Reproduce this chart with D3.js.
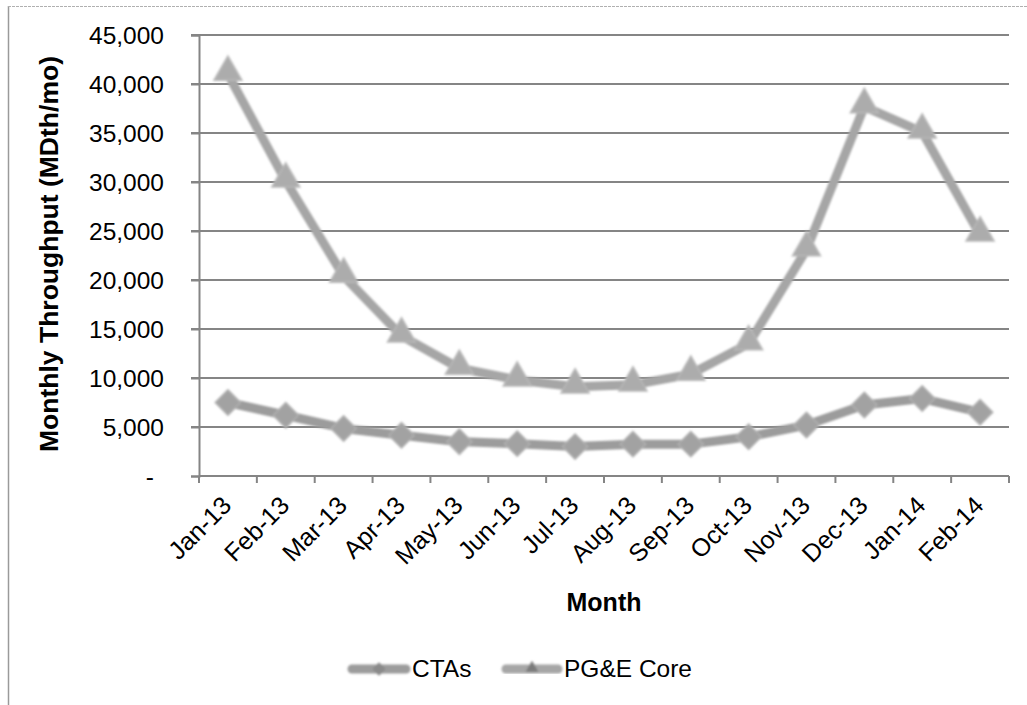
<!DOCTYPE html>
<html>
<head>
<meta charset="utf-8">
<script src="https://cdn.jsdelivr.net/npm/d3@7"></script>
<style>
  html, body { margin: 0; padding: 0; background: #fff; }
  svg { display: block; font-family: "Liberation Sans", Arial, sans-serif; }
</style>
</head>
<body>
<svg id="chart" width="1027" height="705"></svg>
<script>
const months = ["Jan-13","Feb-13","Mar-13","Apr-13","May-13","Jun-13","Jul-13","Aug-13","Sep-13","Oct-13","Nov-13","Dec-13","Jan-14","Feb-14"];
const ctas = [7500, 6200, 4850, 4150, 3500, 3300, 3000, 3250, 3250, 4000, 5200, 7250, 7900, 6500];
const pgeCore = [41000, 30100, 20400, 14300, 11000, 9800, 9100, 9300, 10400, 13500, 23100, 37700, 35100, 24600];
const yTicks = [0, 5000, 10000, 15000, 20000, 25000, 30000, 35000, 40000, 45000];
const yTickLabels = ["-", "5,000", "10,000", "15,000", "20,000", "25,000", "30,000", "35,000", "40,000", "45,000"];
const seriesNames = ["CTAs", "PG&E Core"];

const svg = d3.select("#chart");
const defs = svg.append("defs");
defs.append("filter").attr("id", "soft")
  .attr("x", "-20%").attr("y", "-20%").attr("width", "140%").attr("height", "140%")
  .append("feGaussianBlur").attr("stdDeviation", 0.9);

// outer frame
svg.append("line").attr("x1", 8.5).attr("x2", 8.5).attr("y1", 6).attr("y2", 705)
  .attr("stroke", "#9a9a9a").attr("stroke-width", 1.5);
svg.append("line").attr("x1", 8).attr("x2", 1027).attr("y1", 6.5).attr("y2", 6.5)
  .attr("stroke", "#b0b0b0").attr("stroke-width", 1).attr("stroke-dasharray", "3,1");

const x = d3.scaleBand().domain(months).range([199, 1009]);
const y = d3.scaleLinear().domain([0, 45000]).range([476, 35]);

// gridlines
svg.append("g").selectAll("line").data(yTicks.filter(d => d > 0)).join("line")
  .attr("x1", 191).attr("x2", 1009)
  .attr("y1", d => y(d)).attr("y2", d => y(d))
  .attr("stroke", "#858585").attr("stroke-width", 2);

// y axis
const yAxis = d3.axisLeft(y).tickValues(yTicks).tickSize(8)
  .tickFormat((d, i) => yTickLabels[i]);
const gy = svg.append("g").attr("transform", "translate(199,0)").call(yAxis);
gy.select(".domain").attr("stroke", "#858585").attr("stroke-width", 2);
gy.selectAll(".tick line").attr("stroke", "#858585").attr("stroke-width", 2);
gy.selectAll(".tick text")
  .attr("x", (d) => d === 0 ? -45 : -35)
  .attr("dy", "0.36em")
  .attr("font-size", 24.5).attr("fill", "#000")
  .attr("font-family", "'Liberation Sans', Arial, sans-serif");

// x axis (ticks at band boundaries)
const gx = svg.append("g");
gx.append("line").attr("x1", 199).attr("x2", 1009).attr("y1", 476).attr("y2", 476)
  .attr("stroke", "#858585").attr("stroke-width", 2);
const bounds = months.map(m => x(m)).concat([x.range()[1]]);
gx.selectAll("line.tk").data(bounds).join("line").attr("class", "tk")
  .attr("x1", d => d).attr("x2", d => d).attr("y1", 476).attr("y2", 483)
  .attr("stroke", "#858585").attr("stroke-width", 2);
gx.selectAll("text").data(months).join("text")
  .attr("transform", d => `translate(${x(d) + x.bandwidth() / 2 + 5},507) rotate(-45)`)
  .attr("text-anchor", "end")
  .attr("font-size", 25).attr("fill", "#000")
  .text(d => d);

// axis titles
svg.append("text").attr("transform", "translate(58,254) rotate(-90)")
  .attr("text-anchor", "middle").attr("font-size", 26.5).attr("font-weight", "bold")
  .attr("fill", "#000").text("Monthly Throughput (MDth/mo)");
svg.append("text").attr("x", 604).attr("y", 611)
  .attr("text-anchor", "middle").attr("font-size", 25).attr("font-weight", "bold")
  .attr("fill", "#000").text("Month");

const cx = d => x(d) + x.bandwidth() / 2;
const line = d3.line().x(d => cx(d.m)).y(d => y(d.v));

const series = [
  { name: seriesNames[1], vals: pgeCore, color: "#a6a6a6", marker: "tri" },
  { name: seriesNames[0], vals: ctas, color: "#9c9c9c", marker: "dia" }
];

const plot = svg.append("g").attr("filter", "url(#soft)");
series.forEach(s => {
  const pts = months.map((m, i) => ({ m, v: s.vals[i] }));
  plot.append("path").datum(pts).attr("d", line)
    .attr("fill", "none").attr("stroke", s.color).attr("stroke-width", 9)
    .attr("stroke-linejoin", "round").attr("stroke-linecap", "round");
  const sym = s.marker === "tri"
    ? d3.symbol().type(d3.symbolTriangle).size(340)
    : d3.symbol().type(d3.symbolSquare).size(320);
  plot.append("g").selectAll("path").data(pts).join("path")
    .attr("d", sym)
    .attr("transform", d => s.marker === "tri"
      ? `translate(${cx(d.m)},${y(d.v) - 2})`
      : `translate(${cx(d.m)},${y(d.v)}) rotate(45)`)
    .attr("fill", s.marker === "tri" ? "#acacac" : "#a2a2a2")
    .attr("stroke", s.marker === "tri" ? "#b8b8b8" : "#b0b0b0").attr("stroke-width", 1.5);
});

// legend
const legend = svg.append("g");
const legendItems = [
  { name: seriesNames[0], x1: 348, x2: 410, color: "#9c9c9c", marker: "dia" },
  { name: seriesNames[1], x1: 502, x2: 562, color: "#a6a6a6", marker: "tri" }
];
legendItems.forEach(it => {
  const g = legend.append("g").attr("filter", "url(#soft)");
  g.append("line").attr("x1", it.x1 + 4).attr("x2", it.x2 - 4).attr("y1", 669).attr("y2", 669)
    .attr("stroke", it.color).attr("stroke-width", 9).attr("stroke-linecap", "round");
  const mx = (it.x1 + it.x2) / 2;
  if (it.marker === "dia") {
    g.append("path").attr("d", d3.symbol().type(d3.symbolSquare).size(90))
      .attr("transform", `translate(${mx},669) rotate(45)`).attr("fill", "#8a8a8a");
  } else {
    g.append("path").attr("d", d3.symbol().type(d3.symbolTriangle).size(70))
      .attr("transform", `translate(${mx},668)`).attr("fill", "#7a7a7a");
  }
  legend.append("text").attr("x", it.x2 + 2).attr("y", 677)
    .attr("font-size", 24.5).attr("fill", "#000").text(it.name);
});
</script>
</body>
</html>
